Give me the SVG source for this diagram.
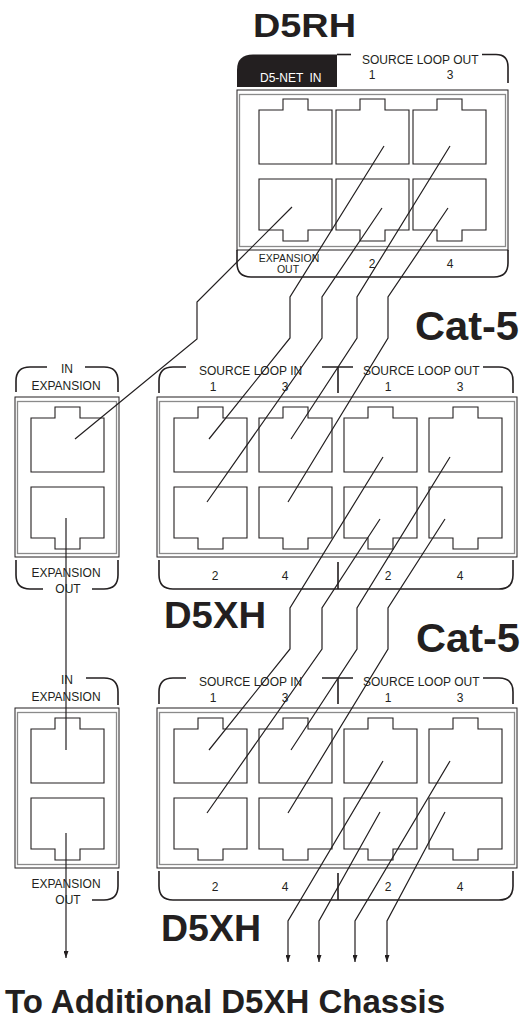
<svg xmlns="http://www.w3.org/2000/svg" width="521" height="1021" viewBox="0 0 521 1021">
<style>
.sm{font-family:"Liberation Sans",Arial,sans-serif;font-size:12px;fill:#231f20}
.xs{font-size:10.5px}
.mid{text-anchor:middle}
.hd{font-family:"Liberation Sans",Arial,sans-serif;font-weight:bold;fill:#231f20}
.br{fill:none;stroke:#231f20;stroke-width:1.6}
.po{fill:#fff;stroke:#231f20;stroke-width:1}
.pi{fill:none;stroke:#8a8a8a;stroke-width:1.3}
.jk{fill:#fff;stroke:#231f20;stroke-width:1.1}
.cn{fill:none;stroke:#231f20;stroke-width:1.2}
</style>
<defs>
<path id="ju" d="M0,11 H24 V0 H49 V11 H73 V65 H0 Z"/>
<path id="jd" d="M0,0 H73 V51 H49 V62 H24 V51 H0 Z"/>
<marker id="ah" viewBox="0 0 7 5" refX="7" refY="2.5" markerWidth="7" markerHeight="5" orient="auto" markerUnits="userSpaceOnUse">
<path d="M0,0 L7,2.5 L0,5 Z" fill="#231f20"/>
</marker>
</defs>

<g id="headings">
<text class="hd" x="253" y="37" font-size="34" textLength="103" lengthAdjust="spacingAndGlyphs">D5RH</text>
<text class="hd" x="415" y="340" font-size="41" textLength="104" lengthAdjust="spacingAndGlyphs">Cat-5</text>
<text class="hd" x="164" y="628" font-size="36" textLength="102" lengthAdjust="spacingAndGlyphs">D5XH</text>
<text class="hd" x="416" y="652" font-size="41" textLength="104" lengthAdjust="spacingAndGlyphs">Cat-5</text>
<text class="hd" x="161" y="941" font-size="36" textLength="100" lengthAdjust="spacingAndGlyphs">D5XH</text>
<text class="hd" x="5" y="1013" font-size="33">To Additional D5XH Chassis</text>
</g>

<g id="d5rh">
<path d="M237,87 V70 Q237,54.5 253,54.5 H337 V87 Z" fill="#231f20"/>
<path class="br" d="M337,54.5 H351"/>
<path class="br" d="M482,54.5 H496 Q508,54.5 508,67 V83"/>
<text class="sm" x="260" y="82" font-size="13" style="fill:#fff" word-spacing="3">D5-NET IN</text>
<text class="sm" x="362" y="64">SOURCE LOOP OUT</text>
<text class="sm mid" x="372" y="79">1</text>
<text class="sm mid" x="450" y="79">3</text>
<rect class="po" x="237" y="90" width="271" height="160"/>
<rect class="pi" x="239.5" y="94.5" width="266" height="152"/>
<use href="#ju" class="jk" x="259" y="99"/>
<use href="#ju" class="jk" x="336" y="99"/>
<use href="#ju" class="jk" x="413" y="99"/>
<use href="#jd" class="jk" x="259" y="179"/>
<use href="#jd" class="jk" x="336" y="179"/>
<use href="#jd" class="jk" x="413" y="179"/>
<path class="br" d="M237,250 V263 Q237,277 251,277 H494 Q508,277 508,263 V250"/>
<text class="sm xs mid" x="289" y="262">EXPANSION</text>
<text class="sm xs mid" x="288" y="273">OUT</text>
<text class="sm mid" x="372" y="268">2</text>
<text class="sm mid" x="450" y="268">4</text>
</g>

<g id="exp1">
<path class="br" d="M16,392 V381 Q16,367 30,367 H47"/>
<path class="br" d="M85,367 H104 Q118,367 118,381 V392"/>
<text class="sm mid" x="67" y="373">IN</text>
<text class="sm mid" x="66" y="390">EXPANSION</text>
<rect class="po" x="15" y="397" width="104" height="160"/>
<rect class="pi" x="17.5" y="401.5" width="99" height="152"/>
<use href="#ju" class="jk" x="31" y="407"/>
<use href="#jd" class="jk" x="31" y="487"/>
<path class="br" d="M16,560 V575 Q16,589 30,589 H43"/>
<path class="br" d="M92,589 H104 Q118,589 118,575 V560"/>
<text class="sm mid" x="66" y="577">EXPANSION</text>
<text class="sm mid" x="68" y="593">OUT</text>
</g>

<g id="d5xh1">
<path class="br" d="M159,393 V381 Q159,367 173,367 H186"/>
<path class="br" d="M322,367 H353 M338,367 V393"/>
<path class="br" d="M483,367 H499 Q513,367 513,381 V393"/>
<text class="sm" x="199" y="375">SOURCE LOOP IN</text>
<text class="sm" x="363" y="375">SOURCE LOOP OUT</text>
<text class="sm mid" x="213" y="391">1</text>
<text class="sm mid" x="285" y="391">3</text>
<text class="sm mid" x="388" y="391">1</text>
<text class="sm mid" x="460" y="391">3</text>
<rect class="po" x="157" y="397" width="360" height="160"/>
<rect class="pi" x="159.5" y="401.5" width="355" height="152"/>
<use href="#ju" class="jk" x="174" y="407"/>
<use href="#ju" class="jk" x="259" y="407"/>
<use href="#ju" class="jk" x="344" y="407"/>
<use href="#ju" class="jk" x="429" y="407"/>
<use href="#jd" class="jk" x="174" y="487"/>
<use href="#jd" class="jk" x="259" y="487"/>
<use href="#jd" class="jk" x="344" y="487"/>
<use href="#jd" class="jk" x="429" y="487"/>
<path class="br" d="M159,560 V575 Q159,589 173,589 H499 Q513,589 513,575 V560 M338,562 V589"/>
<text class="sm mid" x="215" y="580">2</text>
<text class="sm mid" x="285" y="580">4</text>
<text class="sm mid" x="388" y="580">2</text>
<text class="sm mid" x="460" y="580">4</text>
</g>

<g id="exp2" transform="translate(0,311)">
<path class="br" d="M86,367 H104 Q118,367 118,381 V394"/>
<text class="sm mid" x="67" y="373">IN</text>
<text class="sm mid" x="66" y="390">EXPANSION</text>
<rect class="po" x="15" y="397" width="104" height="160"/>
<rect class="pi" x="17.5" y="401.5" width="99" height="152"/>
<use href="#ju" class="jk" x="31" y="407"/>
<use href="#jd" class="jk" x="31" y="487"/>
<path class="br" d="M92,589 H104 Q118,589 118,575 V560"/>
<text class="sm mid" x="66" y="577">EXPANSION</text>
<text class="sm mid" x="68" y="593">OUT</text>
</g>

<g id="d5xh2" transform="translate(0,311)">
<path class="br" d="M159,393 V381 Q159,367 173,367 H186"/>
<path class="br" d="M322,367 H353 M338,367 V393"/>
<path class="br" d="M483,367 H499 Q513,367 513,381 V393"/>
<text class="sm" x="199" y="375">SOURCE LOOP IN</text>
<text class="sm" x="363" y="375">SOURCE LOOP OUT</text>
<text class="sm mid" x="213" y="391">1</text>
<text class="sm mid" x="285" y="391">3</text>
<text class="sm mid" x="388" y="391">1</text>
<text class="sm mid" x="460" y="391">3</text>
<rect class="po" x="157" y="397" width="360" height="160"/>
<rect class="pi" x="159.5" y="401.5" width="355" height="152"/>
<use href="#ju" class="jk" x="174" y="407"/>
<use href="#ju" class="jk" x="259" y="407"/>
<use href="#ju" class="jk" x="344" y="407"/>
<use href="#ju" class="jk" x="429" y="407"/>
<use href="#jd" class="jk" x="174" y="487"/>
<use href="#jd" class="jk" x="259" y="487"/>
<use href="#jd" class="jk" x="344" y="487"/>
<use href="#jd" class="jk" x="429" y="487"/>
<path class="br" d="M159,560 V575 Q159,589 173,589 H499 Q513,589 513,575 V560 M338,562 V589"/>
<text class="sm mid" x="215" y="580">2</text>
<text class="sm mid" x="285" y="580">4</text>
<text class="sm mid" x="388" y="580">2</text>
<text class="sm mid" x="460" y="580">4</text>
</g>

<g id="connectors">
<polyline class="cn" points="292,207 197,302 197,339 75,439"/>
<polyline class="cn" points="384,146 290,297 290,338 209,439"/>
<polyline class="cn" points="382,208 322,297 322,338 207,502"/>
<polyline class="cn" points="450,146 357,297 357,338 291,439"/>
<polyline class="cn" points="448,208 388,297 388,338 288,502"/>
<polyline class="cn" points="383,457 290,608 290,649 209,750"/>
<polyline class="cn" points="380,519 322,608 322,649 207,813"/>
<polyline class="cn" points="450,457 357,608 357,649 291,750"/>
<polyline class="cn" points="445,519 388,608 388,649 288,813"/>
<polyline class="cn" points="66,518 66,750"/>
<polyline class="cn" points="66,833 66,958" marker-end="url(#ah)"/>
<polyline class="cn" points="383,761 288,921 288,962" marker-end="url(#ah)"/>
<polyline class="cn" points="380,812 319,921 319,962" marker-end="url(#ah)"/>
<polyline class="cn" points="450,761 355,921 355,962" marker-end="url(#ah)"/>
<polyline class="cn" points="445,812 387,921 387,962" marker-end="url(#ah)"/>
</g>
</svg>
